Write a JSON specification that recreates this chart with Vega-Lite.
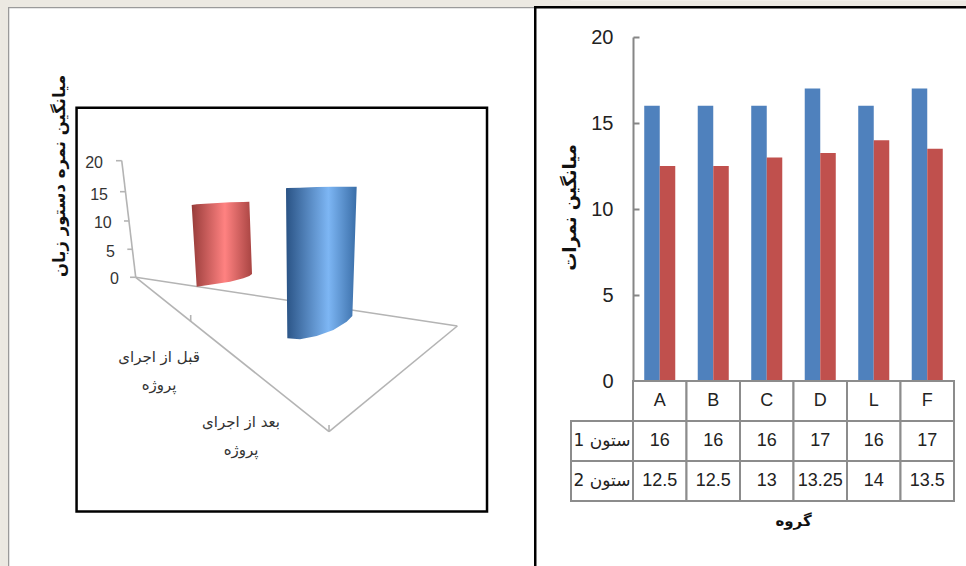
{
"$schema":"https://vega.github.io/schema/vega-lite/v6.json",
"background":"white",
"padding":0,
"bounds":"flush",
"spacing":0,
"config":{"view":{"fill":null,"stroke":null},"font":"Liberation Sans"},
"hconcat":[
{
"width":571,"height":566,
"data":{"values":[
{"part":"page","h":-23.39,"h2":-22.02,"v":47.8,"v2":-49.78},
{"part":"page","h":-23.39,"h2":75.05,"v":47.8,"v2":46.6},
{"part":"edge","h":-22.02,"h2":-21.8,"v":46.6,"v2":-49.78},
{"part":"edge","h":-22.02,"h2":68.67,"v":46.6,"v2":46.38},
{"part":"black","h":68.67,"h2":69.1,"v":46.78,"v2":-49.78},
{"part":"black","h":68.67,"h2":75.05,"v":46.78,"v2":46.34},
{"part":"frame","h":-10.2,"h2":60.57,"v":29.24,"v2":-40.4},
{"part":"floor","h":0,"h2":33.33,"v":0,"v2":-26.62},
{"part":"floor","h":33.33,"h2":55.45,"v":-26.62,"v2":-8.4},
{"part":"floor","h":0,"h2":55.45,"v":0,"v2":-8.4},
{"part":"floor","h":0,"h2":-2.41,"v":0,"v2":20.1},
{"part":"floor","h":-3.4,"h2":-2.41,"v":20.1,"v2":20.1},
{"part":"floor","h":-2.71,"h2":-1.67,"v":14.76,"v2":14.76},
{"part":"floor","h":-2.02,"h2":-1.1,"v":9.71,"v2":9.71},
{"part":"floor","h":-1.45,"h2":-0.52,"v":4.83,"v2":4.83},
{"part":"floor","h":-0.98,"h2":0,"v":0,"v2":0},
{"part":"floor","h":9.48,"h2":9.48,"v":-6.5,"v2":-7.7},
{"part":"floor","h":33.33,"h2":33.33,"v":-25.47,"v2":-26.62},
{"part":"red","h":9.65,"v":12.46,"v2":12.46},
{"part":"red","h":10.51,"v":12.58,"v2":-1.62},
{"part":"red","h":13.39,"v":12.75,"v2":-1.21},
{"part":"red","h":16.26,"v":12.92,"v2":-0.75},
{"part":"red","h":18.56,"v":12.98,"v2":-0.18},
{"part":"red","h":19.59,"v":13.04,"v2":0.22},
{"part":"red","h":20.05,"v":0.57,"v2":0.57},
{"part":"blue","h":25.91,"v":15.34,"v2":15.34},
{"part":"blue","h":26.14,"v":15.4,"v2":-10.52},
{"part":"blue","h":28.33,"v":15.45,"v2":-10.7},
{"part":"blue","h":31.2,"v":15.57,"v2":-10.12},
{"part":"blue","h":34.08,"v":15.63,"v2":-9.09},
{"part":"blue","h":36.37,"v":15.63,"v2":-7.65},
{"part":"blue","h":37.35,"v":15.63,"v2":-6.67},
{"part":"blue","h":38.1,"v":15.63,"v2":15.63},
{"part":"num","h":-5.64,"v":19.7,"label":"20"},
{"part":"num","h":-4.78,"v":14.19,"label":"15"},
{"part":"num","h":-4.14,"v":9.36,"label":"10"},
{"part":"num","h":-3.57,"v":4.36,"label":"5"},
{"part":"num","h":-2.88,"v":-0.29,"label":"0"},
{"part":"cat","h":4.02,"v":-13.74,"label":"قبل از اجرای"},
{"part":"cat","h":4.02,"v":-18.57,"label":"پروژه"},
{"part":"cat","h":18.16,"v":-24.95,"label":"بعد از اجرای"},
{"part":"cat","h":18.16,"v":-29.78,"label":"پروژه"},
{"part":"title","h":-13.05,"v":17.47,"label":"میانگین نمره دستور زبان"}
]},
"encoding":{
"x":{"field":"h","type":"quantitative","scale":{"domain":[-23.4,75.05],"nice":false,"zero":false},"axis":null},
"y":{"field":"v","type":"quantitative","scale":{"domain":[-49.78,47.81],"nice":false,"zero":false},"axis":null}
},
"layer":[
{"transform":[{"filter":"datum.part==='page'"}],"mark":{"type":"rect","color":"#ece9e2"},"encoding":{"x2":{"field":"h2"},"y2":{"field":"v2"}}},
{"transform":[{"filter":"datum.part==='edge'"}],"mark":{"type":"rect","color":"#9a9a9a"},"encoding":{"x2":{"field":"h2"},"y2":{"field":"v2"}}},
{"transform":[{"filter":"datum.part==='black'"}],"mark":{"type":"rect","color":"#000000"},"encoding":{"x2":{"field":"h2"},"y2":{"field":"v2"}}},
{"transform":[{"filter":"datum.part==='frame'"}],"mark":{"type":"rect","fill":"white","stroke":"#000000","strokeWidth":2.5},"encoding":{"x2":{"field":"h2"},"y2":{"field":"v2"}}},
{"transform":[{"filter":"datum.part==='floor'"}],"mark":{"type":"rule","color":"#b4b4b4","strokeWidth":1.6},"encoding":{"x2":{"field":"h2"},"y2":{"field":"v2"}}},
{"transform":[{"filter":"datum.part==='red'"}],"mark":{"type":"area","color":{"gradient":"linear","x1":0,"x2":1,"y1":0,"y2":0,"stops":[{"offset":0,"color":"#983c3a"},{"offset":0.55,"color":"#ff8281"},{"offset":1,"color":"#a84442"}]}},"encoding":{"y2":{"field":"v2"}}},
{"transform":[{"filter":"datum.part==='blue'"}],"mark":{"type":"area","color":{"gradient":"linear","x1":0,"x2":1,"y1":0,"y2":0,"stops":[{"offset":0,"color":"#2a5385"},{"offset":0.6,"color":"#7db6f4"},{"offset":1,"color":"#3a6ea8"}]}},"encoding":{"y2":{"field":"v2"}}},
{"transform":[{"filter":"datum.part==='num'"}],"mark":{"type":"text","align":"right","baseline":"middle","fontSize":16,"color":"#333333"},"encoding":{"text":{"field":"label"}}},
{"transform":[{"filter":"datum.part==='cat'"}],"mark":{"type":"text","align":"center","baseline":"middle","fontSize":15,"font":"DejaVu Sans","color":"#333333"},"encoding":{"text":{"field":"label"}}},
{"transform":[{"filter":"datum.part==='title'"}],"mark":{"type":"text","align":"center","baseline":"middle","angle":270,"fontSize":16.5,"fontWeight":"bold","font":"DejaVu Sans","color":"#111111"},"encoding":{"text":{"field":"label"}}}
]
},
{
"bounds":"flush",
"spacing":0,
"vconcat":[
{
"width":395,"height":381,
"data":{"values":[
{"group":"A","series":"ستون 1","value":16},{"group":"A","series":"ستون 2","value":12.5},
{"group":"B","series":"ستون 1","value":16},{"group":"B","series":"ستون 2","value":12.5},
{"group":"C","series":"ستون 1","value":16},{"group":"C","series":"ستون 2","value":13},
{"group":"D","series":"ستون 1","value":17},{"group":"D","series":"ستون 2","value":13.25},
{"group":"L","series":"ستون 1","value":16},{"group":"L","series":"ستون 2","value":14},
{"group":"F","series":"ستون 1","value":17},{"group":"F","series":"ستون 2","value":13.5}
]},
"layer":[
{"data":{"values":[{"band":"page top"}]},"mark":{"type":"rect","color":"#ece9e2"},"encoding":{"y":{"datum":22.14,"type":"quantitative","scale":{"domain":[0,20],"range":[381,37],"nice":false}},"y2":{"datum":21.74}}},
{"mark":{"type":"bar"},
"encoding":{
"x":{"field":"group","type":"nominal","scale":{"domain":["A","B","C","D","L","F"],"range":[62,383],"paddingInner":0.42,"paddingOuter":0.21},"axis":null},
"xOffset":{"field":"series","type":"nominal","scale":{"paddingInner":0,"paddingOuter":0}},
"y":{"field":"value","type":"quantitative","scale":{"domain":[0,20],"range":[381,37],"nice":false},
"axis":{"values":[0,5,10,15,20],"offset":-62,"grid":false,"domainColor":"#868686","domainWidth":2,"tickColor":"#868686","tickWidth":2,"tickSize":-6,"labelFontSize":20,"labelColor":"#222222","labelPadding":26,"title":"میانگین نمرات","titleFont":"DejaVu Sans","titleFontSize":18,"titleFontWeight":"bold","titleColor":"#111111","titleX":-54,"titleY":207}},
"color":{"field":"series","type":"nominal","scale":{"domain":["ستون 1","ستون 2"],"range":["#4f81bd","#c0504d"]},"legend":null}
}},
{"data":{"values":[{"band":"frame top"}]},"mark":{"type":"rect","color":"#000000"},"encoding":{"y":{"datum":21.8},"y2":{"datum":21.66}}}
]
},
{
"bounds":"flush",
"spacing":0,
"hconcat":[
{
"width":62,"height":185,
"data":{"values":[{"row":"r1","label":"ستون 1"},{"row":"r2","label":"ستون 2"}]},
"encoding":{"y":{"field":"row","type":"nominal","scale":{"domain":["r0","r1","r2","title"],"range":[0,160],"padding":0},"axis":null}},
"layer":[
{"mark":{"type":"rect","fill":"white","stroke":"#8c8c8c","strokeWidth":2}},
{"mark":{"type":"text","fontSize":17,"font":"DejaVu Sans","color":"#222222"},"encoding":{"text":{"field":"label"}}}
]
},
{
"width":333,"height":185,
"data":{"values":[
{"group":"A","row":"r0","label":"A"},{"group":"B","row":"r0","label":"B"},{"group":"C","row":"r0","label":"C"},{"group":"D","row":"r0","label":"D"},{"group":"L","row":"r0","label":"L"},{"group":"F","row":"r0","label":"F"},
{"group":"A","row":"r1","label":"16"},{"group":"B","row":"r1","label":"16"},{"group":"C","row":"r1","label":"16"},{"group":"D","row":"r1","label":"17"},{"group":"L","row":"r1","label":"16"},{"group":"F","row":"r1","label":"17"},
{"group":"A","row":"r2","label":"12.5"},{"group":"B","row":"r2","label":"12.5"},{"group":"C","row":"r2","label":"13"},{"group":"D","row":"r2","label":"13.25"},{"group":"L","row":"r2","label":"14"},{"group":"F","row":"r2","label":"13.5"}
]},
"encoding":{
"x":{"field":"group","type":"nominal","scale":{"domain":["A","B","C","D","L","F"],"range":[0,321],"padding":0},"axis":null},
"y":{"field":"row","type":"nominal","scale":{"domain":["r0","r1","r2","title"],"range":[0,160],"padding":0},"axis":null}
},
"layer":[
{"mark":{"type":"rect","fill":"white","stroke":"#8c8c8c","strokeWidth":2}},
{"mark":{"type":"text","fontSize":18,"color":"#222222"},"encoding":{"text":{"field":"label"}}},
{"data":{"values":[{"row":"title","label":"گروه"}]},"mark":{"type":"text","fontSize":15,"fontWeight":"bold","font":"DejaVu Sans","color":"#111111"},"encoding":{"x":{"datum":"D","bandPosition":0},"text":{"field":"label"}}}
]
}
]
}
]
}
]
}
